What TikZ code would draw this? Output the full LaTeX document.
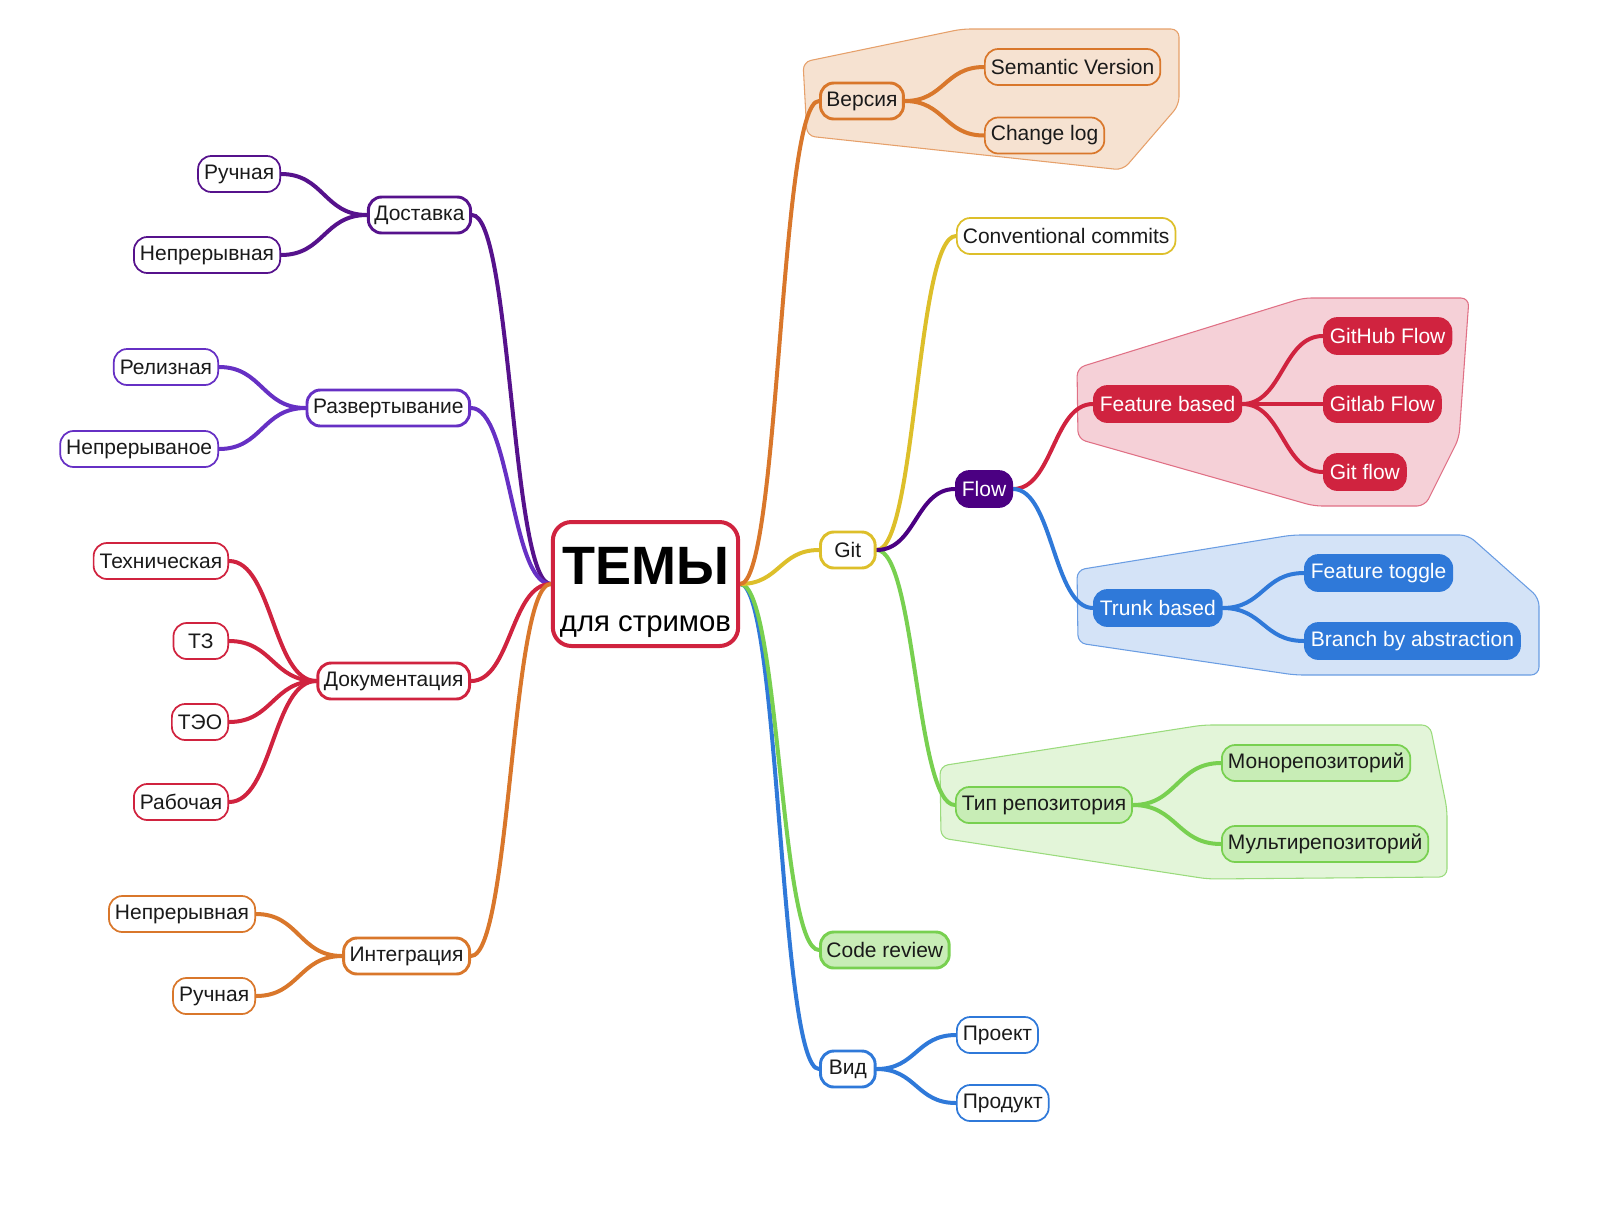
\documentclass[tikz,border=0pt]{standalone}
\usepackage{fontspec}
\setmainfont{Liberation Sans}
\usetikzlibrary{calc,backgrounds}

\definecolor{ink}{HTML}{1A1A1A}
\definecolor{cOrange}{HTML}{D9772B}
\definecolor{orHull}{HTML}{F6E2D1}
\definecolor{orHullLine}{HTML}{E6A06A}
\definecolor{cYellow}{HTML}{DDBF2A}
\definecolor{cIndigo}{HTML}{4B0082}
\definecolor{cRed}{HTML}{D0233F}
\definecolor{redHull}{HTML}{F5D0D7}
\definecolor{redHullLine}{HTML}{E07085}
\definecolor{cBlue}{HTML}{2F79D9}
\definecolor{blueHull}{HTML}{D4E3F7}
\definecolor{blueHullLine}{HTML}{6A9DE3}
\definecolor{cGreen}{HTML}{78D050}
\definecolor{greenFill}{HTML}{C8EDB6}
\definecolor{greenHull}{HTML}{E3F5D9}
\definecolor{greenHullLine}{HTML}{9ADB7C}
\definecolor{cPurple}{HTML}{56128C}
\definecolor{cViolet}{HTML}{6630C4}

\pgfdeclarelayer{hull}
\pgfsetlayers{hull,background,main}

\tikzset{
  topic/.style={draw, rounded corners=10pt, minimum height=27pt, minimum width=41pt,
    inner xsep=4.5pt, inner ysep=0pt, font=\fontsize{15.75}{19}\selectfont,
    text=ink, fill=white},
  lone/.style={topic, line width=2.2pt},
  ltwo/.style={topic, line width=1.3pt},
  solid fill/.style={fill=#1, draw=#1, text=white},
  link/.style={line width=3pt, line cap=round},
  hullshape/.style={rounded corners=6pt, line width=0.8pt},
}

% curved connector: horizontal tangents at both ends
\newcommand\mmlink[3]{%
  \draw[link,#3] let \p1=(#1), \p2=(#2), \n1={(\x2-\x1)/2} in
    (\p1) .. controls (\x1+\n1,\y1) and (\x2-\n1,\y2) .. (\p2);}

\begin{document}
\begin{tikzpicture}[x=0.75pt,y=-0.75pt]
\useasboundingbox (0,0) rectangle (1612,1218);

% ---------- central topic ----------
\node[draw=cRed, line width=3pt, rounded corners=14pt, fill=white,
      minimum width=139pt, minimum height=93pt, inner sep=0pt,
      align=center, text=black, text height=76.5pt, text depth=6pt,
      font=\fontsize{22}{35.25}\selectfont]
  (root) at (645.5,584)
  {{\fontsize{40.5}{35.25}\selectfont\bfseries ТЕМЫ}\\для стримов};

% ---------- right side ----------
\node[lone, draw=cOrange, fill=orHull, anchor=west] (ver) at (819,101) {Версия};
\node[ltwo, draw=cOrange, fill=orHull, anchor=west] (sem) at (984,67) {Semantic Version};
\node[ltwo, draw=cOrange, fill=orHull, anchor=west] (chl) at (984,135.5) {Change log};

\node[lone, draw=cYellow, anchor=west] (git) at (819,550) {Git};
\node[ltwo, draw=cYellow, anchor=west] (conv) at (956,236) {Conventional commits};
\node[ltwo, solid fill=cIndigo, anchor=west] (flow) at (955,489) {Flow};

\node[ltwo, solid fill=cRed, anchor=west] (feat) at (1093,404) {Feature based};
\node[ltwo, solid fill=cRed, anchor=west] (ghf) at (1323,336) {GitHub Flow};
\node[ltwo, solid fill=cRed, anchor=west] (glf) at (1323,404) {Gitlab Flow};
\node[ltwo, solid fill=cRed, anchor=west] (gfl) at (1323,472) {Git flow};

\node[ltwo, solid fill=cBlue, anchor=west] (trunk) at (1093,608) {Trunk based};
\node[ltwo, solid fill=cBlue, anchor=west] (ftog) at (1304,573) {Feature toggle};
\node[ltwo, solid fill=cBlue, anchor=west] (bba) at (1304,641) {Branch by abstraction};

\node[ltwo, draw=cGreen, fill=greenFill, anchor=west] (repo) at (955,805) {Тип репозитория};
\node[ltwo, draw=cGreen, fill=greenFill, anchor=west] (mono) at (1221,763) {Монорепозиторий};
\node[ltwo, draw=cGreen, fill=greenFill, anchor=west] (multi) at (1221,844) {Мультирепозиторий};

\node[lone, draw=cGreen, fill=greenFill, anchor=west] (cr) at (819,950) {Code review};

\node[lone, draw=cBlue, anchor=west] (vid) at (819,1069) {Вид};
\node[ltwo, draw=cBlue, anchor=west] (proj) at (956,1035) {Проект};
\node[ltwo, draw=cBlue, anchor=west] (prod) at (956,1103) {Продукт};

% ---------- left side ----------
\node[lone, draw=cPurple, anchor=east] (dost) at (472,215) {Доставка};
\node[ltwo, draw=cPurple, anchor=east] (dman) at (281,174) {Ручная};
\node[ltwo, draw=cPurple, anchor=east] (dcont) at (281,255) {Непрерывная};

\node[lone, draw=cViolet, anchor=east] (razv) at (471,408) {Развертывание};
\node[ltwo, draw=cViolet, anchor=east] (rrel) at (219,367) {Релизная};
\node[ltwo, draw=cViolet, anchor=east] (rcont) at (219,449) {Непрерываное};

\node[lone, draw=cRed, anchor=east] (doc) at (471,681) {Документация};
\node[ltwo, draw=cRed, anchor=east] (dtech) at (229,561) {Техническая};
\node[ltwo, draw=cRed, anchor=east] (dtz) at (229,641) {ТЗ};
\node[ltwo, draw=cRed, anchor=east] (dteo) at (229,722) {ТЭО};
\node[ltwo, draw=cRed, anchor=east] (dwork) at (229,802) {Рабочая};

\node[lone, draw=cOrange, anchor=east] (integ) at (471,956) {Интеграция};
\node[ltwo, draw=cOrange, anchor=east] (icont) at (256,914) {Непрерывная};
\node[ltwo, draw=cOrange, anchor=east] (iman) at (256,996) {Ручная};

% ---------- connectors ----------
\begin{pgfonlayer}{background}
  \mmlink{root.east}{vid.west}{cBlue}
  \mmlink{root.east}{cr.west}{cGreen}
  \mmlink{root.east}{git.west}{cYellow}
  \mmlink{root.east}{ver.west}{cOrange}

  \mmlink{root.west}{dost.east}{cPurple}
  \mmlink{root.west}{razv.east}{cViolet}
  \mmlink{root.west}{doc.east}{cRed}
  \mmlink{root.west}{integ.east}{cOrange}

  \mmlink{ver.east}{sem.west}{cOrange}
  \mmlink{ver.east}{chl.west}{cOrange}

  \mmlink{git.east}{conv.west}{cYellow}
  \mmlink{git.east}{repo.west}{cGreen}
  \mmlink{git.east}{flow.west}{cIndigo}

  \mmlink{flow.east}{feat.west}{cRed}
  \mmlink{flow.east}{trunk.west}{cBlue}

  \mmlink{feat.east}{ghf.west}{cRed}
  \mmlink{feat.east}{glf.west}{cRed}
  \mmlink{feat.east}{gfl.west}{cRed}

  \mmlink{trunk.east}{ftog.west}{cBlue}
  \mmlink{trunk.east}{bba.west}{cBlue}

  \mmlink{repo.east}{mono.west}{cGreen}
  \mmlink{repo.east}{multi.west}{cGreen}

  \mmlink{vid.east}{proj.west}{cBlue}
  \mmlink{vid.east}{prod.west}{cBlue}

  \mmlink{dost.west}{dman.east}{cPurple}
  \mmlink{dost.west}{dcont.east}{cPurple}

  \mmlink{razv.west}{rrel.east}{cViolet}
  \mmlink{razv.west}{rcont.east}{cViolet}

  \mmlink{doc.west}{dtech.east}{cRed}
  \mmlink{doc.west}{dtz.east}{cRed}
  \mmlink{doc.west}{dteo.east}{cRed}
  \mmlink{doc.west}{dwork.east}{cRed}

  \mmlink{integ.west}{icont.east}{cOrange}
  \mmlink{integ.west}{iman.east}{cOrange}
\end{pgfonlayer}

% ---------- group outlines ----------
\begin{pgfonlayer}{hull}
  \draw[hullshape, fill=orHull, draw=orHullLine]
    (803,62) -- (962,29) -- (1179,29) -- (1179,105) -- (1123,170)
    -- (807,136) -- cycle;
  \draw[hullshape, fill=redHull, draw=redHullLine]
    (1077,368) -- (1303,298) -- (1469,298) -- (1459,438) -- (1425,506)
    -- (1314,506) -- (1078,439) -- cycle;
  \draw[hullshape, fill=blueHull, draw=blueHullLine]
    (1077,570) -- (1292,535) -- (1468,535) -- (1539,598) -- (1539,675)
    -- (1295,675) -- (1078,643) -- cycle;
  \draw[hullshape, fill=greenHull, draw=greenHullLine]
    (940,766) -- (1203,725) -- (1430,725) -- (1447,809) -- (1447,877)
    -- (1208,879) -- (941,838) -- cycle;
\end{pgfonlayer}
\end{tikzpicture}
\end{document}
